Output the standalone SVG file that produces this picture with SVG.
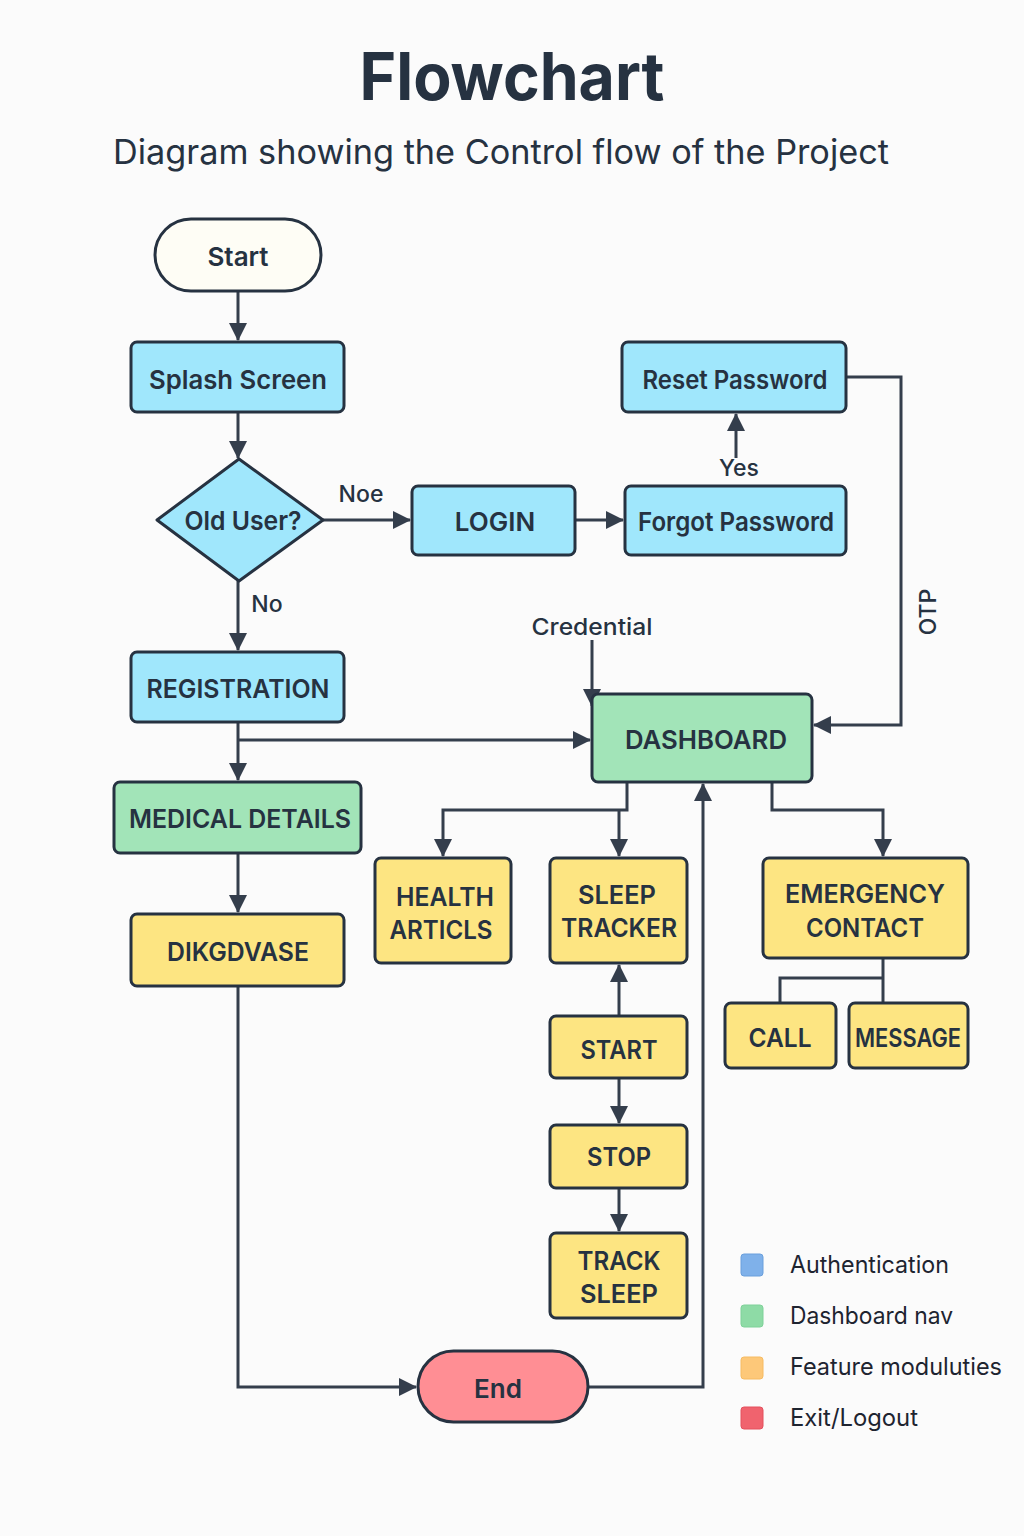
<svg xmlns="http://www.w3.org/2000/svg" width="1024" height="1536" viewBox="0 0 1024 1536">
<defs>
<marker id="ah" markerUnits="userSpaceOnUse" markerWidth="18" markerHeight="18" viewBox="0 0 18 18" refX="17" refY="9" orient="auto">
<path d="M0,0 L18,9 L0,18 Z" fill="#343e4c"/>
</marker>
<style>
.bg{fill:#fbfbfb}
.n{stroke:#263241;stroke-width:3}
.auth{fill:#a0e7fc}
.dash{fill:#a2e4b8}
.feat{fill:#fde582}
.t{font-family:Inter,"Noto Sans","Liberation Sans",sans-serif;fill:#263241;text-anchor:middle;dominant-baseline:central}
.nt{font-size:26px;font-weight:600}
.lbl{font-size:23px;font-weight:500}
.c{fill:none;stroke:#343e4c;stroke-width:3}
.lg{font-family:Inter,"Noto Sans","Liberation Sans",sans-serif;font-size:24px;fill:#1e2430}
</style>
</defs>
<rect class="bg" x="0" y="0" width="1024" height="1536"/>
<text class="t" x="512" y="76" font-size="66" font-weight="700" fill="#333f4f" textLength="305" lengthAdjust="spacingAndGlyphs">Flowchart</text>
<text class="t" x="501" y="151" font-size="34" textLength="776" lengthAdjust="spacingAndGlyphs">Diagram showing the Control flow of  the Project</text>

<g id="connectors">
<path class="c" d="M238,291 V340" marker-end="url(#ah)"/>
<path class="c" d="M238,412 V458" marker-end="url(#ah)"/>
<path class="c" d="M323,520 H410" marker-end="url(#ah)"/>
<path class="c" d="M575,520 H623" marker-end="url(#ah)"/>
<path class="c" d="M736,458 V414" marker-end="url(#ah)"/>
<path class="c" d="M846,377 H901 V725 H814" marker-end="url(#ah)"/>
<path class="c" d="M238,581 V650" marker-end="url(#ah)"/>
<path class="c" d="M238,722 V780" marker-end="url(#ah)"/>
<path class="c" d="M238,740 H590" marker-end="url(#ah)"/>
<path class="c" d="M592,640 V706" marker-end="url(#ah)"/>
<path class="c" d="M238,853 V912" marker-end="url(#ah)"/>
<path class="c" d="M238,986 V1387 H416" marker-end="url(#ah)"/>
<path class="c" d="M588,1387 H703 V784" marker-end="url(#ah)"/>
<path class="c" d="M627,782 V810 H443 V856" marker-end="url(#ah)"/>
<path class="c" d="M619,810 V856" marker-end="url(#ah)"/>
<path class="c" d="M772,782 V810 H883 V856" marker-end="url(#ah)"/>
<path class="c" d="M619,1016 V965" marker-end="url(#ah)"/>
<path class="c" d="M619,1078 V1123" marker-end="url(#ah)"/>
<path class="c" d="M619,1188 V1231" marker-end="url(#ah)"/>
<path class="c" d="M883,958 V1003"/>
<path class="c" d="M883,978 H780 V1003"/>
<text class="t lbl" x="361" y="494">Noe</text>
<text class="t lbl" x="739" y="468">Yes</text>
<text class="t lbl" x="267" y="604">No</text>
<text class="t lbl" x="592" y="627" textLength="121" lengthAdjust="spacingAndGlyphs">Credential</text>
<text class="t lbl" x="928" y="612" font-weight="600" transform="rotate(-90 928 612)">OTP</text>
</g>

<g id="start"><rect class="n" x="155" y="219" width="166" height="72" rx="36" fill="#fefdf5"/><text class="t nt" x="238" y="256" font-weight="500" font-size="28">Start</text></g>
<g id="splash"><rect class="n auth" x="131" y="342" width="213" height="70" rx="6"/><text class="t nt" x="238" y="379" textLength="178" lengthAdjust="spacingAndGlyphs">Splash Screen</text></g>
<g id="olduser"><path class="n auth" d="M239,459 L323,520 L239,581 L157,520 Z" stroke-linejoin="round"/><text class="t nt" x="243" y="520" font-weight="500" textLength="117" lengthAdjust="spacingAndGlyphs">Old User?</text></g>
<g id="login"><rect class="n auth" x="412" y="486" width="163" height="69" rx="6"/><text class="t nt" x="495" y="521" font-weight="500">LOGIN</text></g>
<g id="forgot"><rect class="n auth" x="625" y="486" width="221" height="69" rx="6"/><text class="t nt" x="736" y="521" textLength="196" lengthAdjust="spacingAndGlyphs">Forgot Password</text></g>
<g id="reset"><rect class="n auth" x="622" y="342" width="224" height="70" rx="6"/><text class="t nt" x="735" y="379" textLength="185" lengthAdjust="spacingAndGlyphs">Reset Password</text></g>
<g id="registration"><rect class="n auth" x="131" y="652" width="213" height="70" rx="6"/><text class="t nt" x="238" y="688" textLength="183" lengthAdjust="spacingAndGlyphs">REGISTRATION</text></g>
<g id="dashboard"><rect class="n dash" x="592" y="694" width="220" height="88" rx="6"/><text class="t nt" x="706" y="739" textLength="162" lengthAdjust="spacingAndGlyphs">DASHBOARD</text></g>
<g id="medical"><rect class="n dash" x="114" y="782" width="247" height="71" rx="6"/><text class="t nt" x="240" y="818" textLength="222" lengthAdjust="spacingAndGlyphs">MEDICAL DETAILS</text></g>
<g id="diag"><rect class="n feat" x="131" y="914" width="213" height="72" rx="6"/><text class="t nt" x="238" y="951" font-weight="500" textLength="142" lengthAdjust="spacingAndGlyphs">DIKGDVASE</text></g>
<g id="health"><rect class="n feat" x="375" y="858" width="136" height="105" rx="6"/><text class="t nt" x="445" y="896" textLength="98" lengthAdjust="spacingAndGlyphs">HEALTH</text><text class="t nt" x="441" y="929" textLength="103" lengthAdjust="spacingAndGlyphs">ARTICLS</text></g>
<g id="sleeptracker"><rect class="n feat" x="550" y="858" width="137" height="105" rx="6"/><text class="t nt" x="617" y="894" textLength="78" lengthAdjust="spacingAndGlyphs">SLEEP</text><text class="t nt" x="619" y="927" textLength="116" lengthAdjust="spacingAndGlyphs">TRACKER</text></g>
<g id="emergency"><rect class="n feat" x="763" y="858" width="205" height="100" rx="6"/><text class="t nt" x="865" y="893" textLength="160" lengthAdjust="spacingAndGlyphs">EMERGENCY</text><text class="t nt" x="865" y="927" textLength="118" lengthAdjust="spacingAndGlyphs">CONTACT</text></g>
<g id="call"><rect class="n feat" x="725" y="1003" width="111" height="65" rx="6"/><text class="t nt" x="780" y="1037" textLength="63" lengthAdjust="spacingAndGlyphs">CALL</text></g>
<g id="message"><rect class="n feat" x="849" y="1003" width="119" height="65" rx="6"/><text class="t nt" x="908" y="1037" textLength="106" lengthAdjust="spacingAndGlyphs">MESSAGE</text></g>
<g id="startnode"><rect class="n feat" x="550" y="1016" width="137" height="62" rx="6"/><text class="t nt" x="619" y="1049" textLength="77" lengthAdjust="spacingAndGlyphs">START</text></g>
<g id="stop"><rect class="n feat" x="550" y="1125" width="137" height="63" rx="6"/><text class="t nt" x="619" y="1156" textLength="64" lengthAdjust="spacingAndGlyphs">STOP</text></g>
<g id="tracksleep"><rect class="n feat" x="550" y="1233" width="137" height="85" rx="6"/><text class="t nt" x="619" y="1260" textLength="83" lengthAdjust="spacingAndGlyphs">TRACK</text><text class="t nt" x="619" y="1293" textLength="78" lengthAdjust="spacingAndGlyphs">SLEEP</text></g>
<g id="end"><rect class="n" x="418" y="1351" width="170" height="71" rx="35.5" fill="#ff8e94"/><text class="t nt" x="498" y="1388" font-size="28">End</text></g>

<g id="legend">
<rect x="741" y="1254" width="22" height="22" rx="3" fill="#7fb1ea" stroke="#6a9fdc" stroke-width="1"/>
<text class="lg" x="790" y="1273" textLength="159" lengthAdjust="spacingAndGlyphs">Authentication</text>
<rect x="741" y="1305" width="22" height="22" rx="3" fill="#8edba6" stroke="#7fd199" stroke-width="1"/>
<text class="lg" x="790" y="1324" textLength="163" lengthAdjust="spacingAndGlyphs">Dashboard nav</text>
<rect x="741" y="1357" width="22" height="22" rx="3" fill="#fdc879" stroke="#f6bb62" stroke-width="1"/>
<text class="lg" x="790" y="1375" textLength="212" lengthAdjust="spacingAndGlyphs">Feature moduluties</text>
<rect x="741" y="1407" width="22" height="22" rx="3" fill="#f0636e" stroke="#e4505d" stroke-width="1"/>
<text class="lg" x="790" y="1426" textLength="128" lengthAdjust="spacingAndGlyphs">Exit/Logout</text>
</g>
</svg>
